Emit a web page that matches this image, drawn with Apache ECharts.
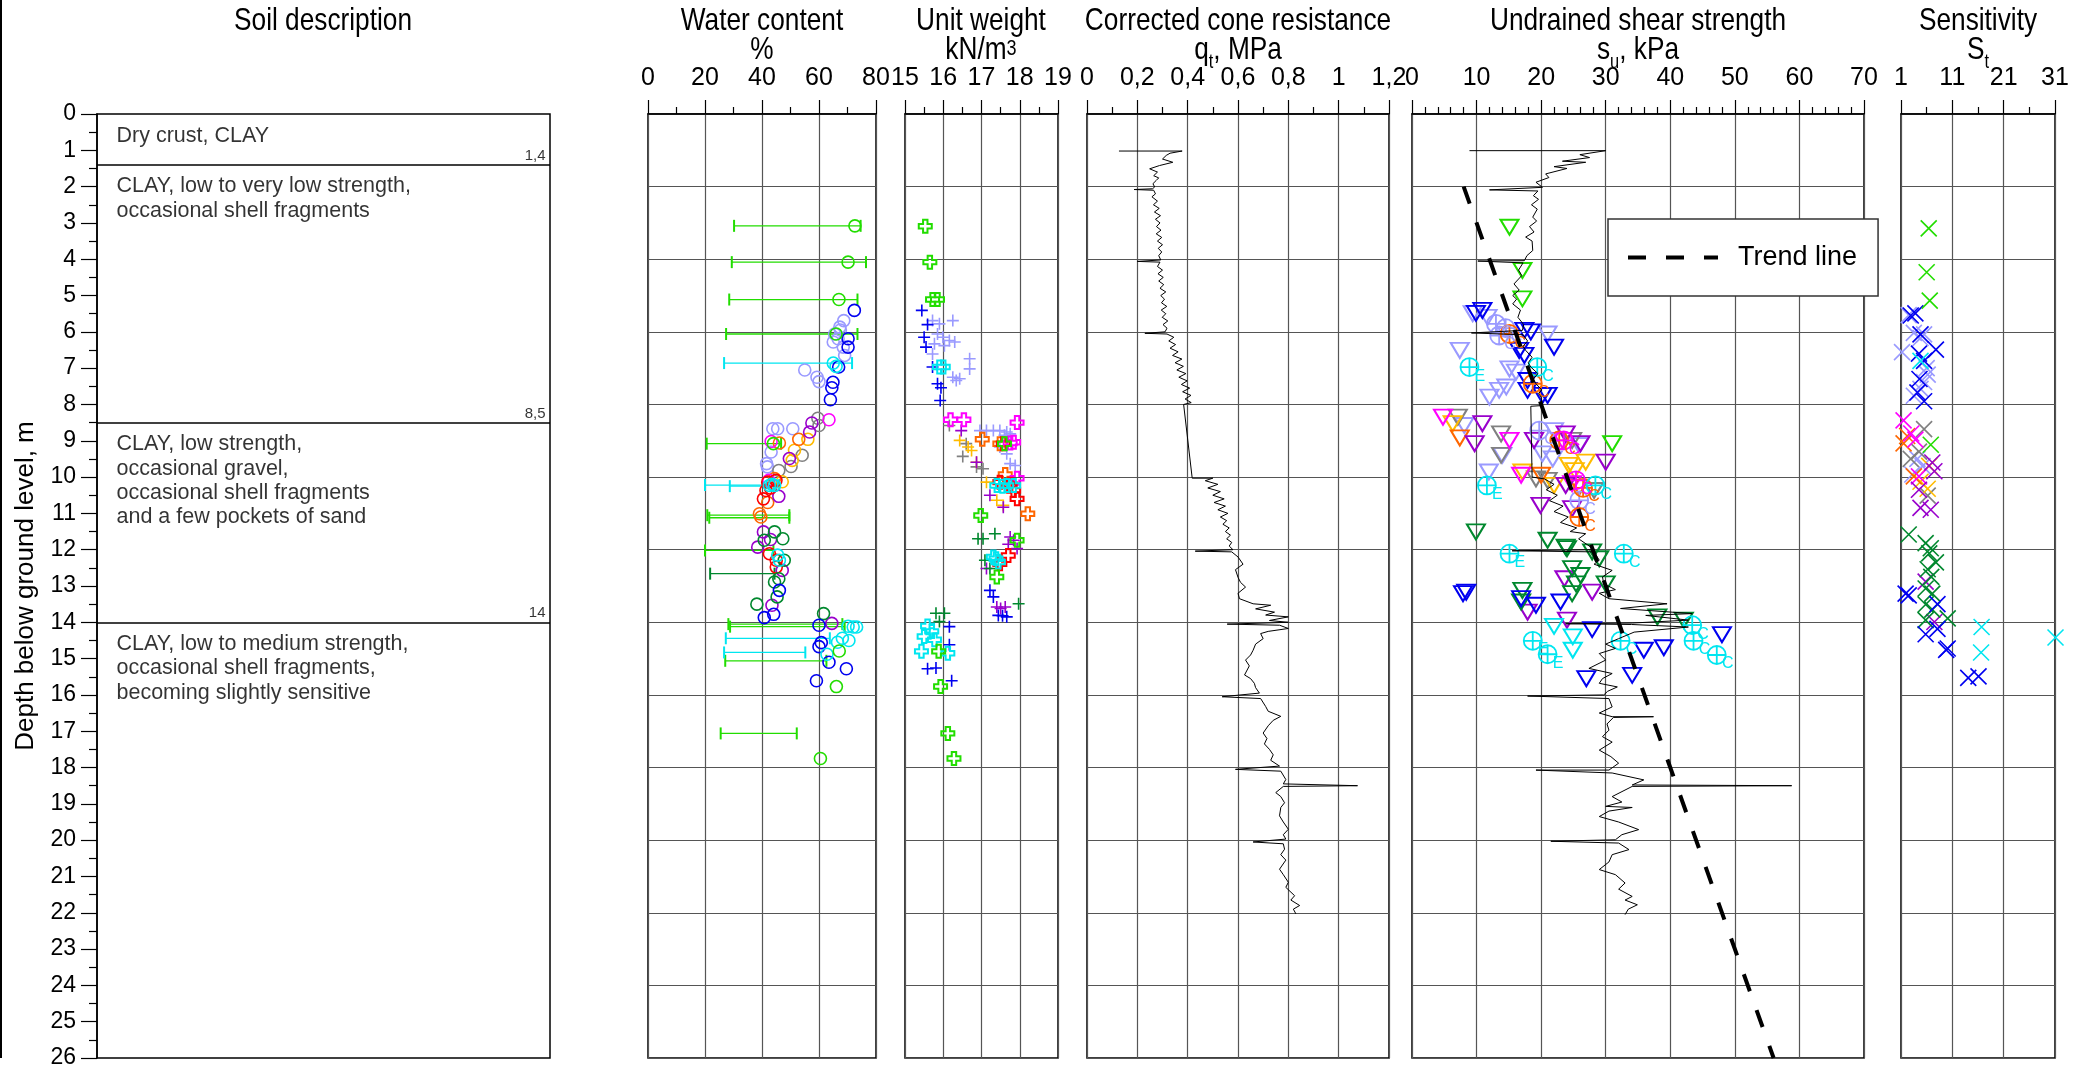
<!DOCTYPE html>
<html>
<head>
<meta charset="utf-8">
<title>Soil profile</title>
<script src="https://cdn.jsdelivr.net/npm/echarts@6/dist/echarts.min.js"></script>
<style>
  html, body { margin: 0; padding: 0; background: #fff; }
  #chart { width: 2087px; height: 1071px; }
</style>
</head>
<body>
<div id="chart"></div>
<script>
// depth scale
const depthMax = 26;

// soil layers
const layerTops = [0, 1.4, 8.5, 14];
const layerBounds = [1.4, 8.5, 14];
const layerText = [
  'Dry crust, CLAY',
  'CLAY, low to very low strength,\noccasional shell fragments',
  'CLAY, low strength,\noccasional gravel,\noccasional shell fragments\nand a few pockets of sand',
  'CLAY, low to medium strength,\noccasional shell fragments,\nbecoming slightly sensitive'
];

// tick labels of the top axes
const waterTicks = [0, 20, 40, 60, 80];
const unitTicks = [15, 16, 17, 18, 19];
const coneTicks = [0, 0.2, 0.4, 0.6, 0.8, 1, 1.2];
const suTicks = [0, 10, 20, 30, 40, 50, 60, 70];
const sensTicks = [1, 11, 21, 31];

// water content, [w %, depth m]
const waterLime = [[72.6, 3.08], [70.2, 4.08], [67, 5.11], [66, 6.06], [44, 9.08], [67.1, 14.79], [66.1, 15.77], [60.5, 17.75]];
const waterBlue = [[72.4, 5.41], [70.2, 6.19], [70.2, 6.42], [66.9, 6.97], [64.9, 7.39], [64.5, 7.54], [64, 7.87], [46.1, 13.12],
  [44.1, 13.78], [40.8, 13.87], [60, 14.08], [60.8, 14.56], [60, 14.67], [63.5, 15.1], [69.6, 15.28], [59.1, 15.61]];
const waterLav = [[68.7, 5.69], [67.3, 5.87], [65.5, 6.06], [65, 6.28], [66.7, 6.19], [68.5, 6.42], [69, 6.65], [67.5, 5.95],
  [55, 7.05], [59.3, 7.25], [60, 7.37], [43.8, 8.67], [45.5, 8.67], [50.8, 8.67], [43.2, 9.31], [41.6, 9.63], [41.9, 9.72]];
const waterMag = [[63.5, 8.42], [43.2, 9.02], [42.4, 10.09]];
const waterPurple = [[57.5, 8.51], [56.7, 8.76], [49.6, 9.49], [45.9, 10.53], [40.5, 11.51], [43, 11.72], [38.5, 11.93],
  [47.1, 12.57], [43.5, 13.53], [64.5, 14.03]];
const waterGray = [[59.6, 8.38], [60, 8.58], [54.1, 9.4], [50.2, 9.71], [45.9, 9.82]];
const waterOrange = [[52.9, 8.96], [46.1, 9.06], [44.4, 10.04], [42, 10.7], [39.1, 11.01], [39.6, 11.1]];
const waterGold = [[56.1, 8.96], [51.4, 9.26], [50.6, 9.54], [47.1, 10.13]];
const waterRed = [[42, 10.14], [44.9, 10.09], [43, 10.3], [41.4, 10.37], [40.5, 10.6], [42.6, 12.11], [45, 12.29], [45, 12.48]];
const waterCyan = [[65, 6.86], [66, 6.95], [42.6, 10.23], [44.4, 10.23], [43.5, 10.2], [45.5, 12.15], [46.1, 12.29],
  [70.2, 14.11], [72, 14.13], [73.2, 14.13], [68.2, 14.44], [70.5, 14.5], [66.5, 14.55], [62.8, 14.88]];
const waterDkGreen = [[44.4, 11.51], [47.3, 11.7], [40.8, 11.74], [47.8, 12.29], [45.9, 12.8], [44.4, 12.89], [45.3, 13.3],
  [38.2, 13.5], [61.6, 13.76]];
// water content ranges, [min, max, depth]
const rangeLime = [[30.2, 74.6, 3.08], [29.4, 76.5, 4.08], [28.5, 73.5, 5.11], [27.4, 73.5, 6.06], [20.6, 46.7, 9.08],
  [20.8, 49.6, 11.05], [21.5, 49.6, 11.12], [20, 44, 12.02], [28.2, 68.2, 14.05], [28.8, 69, 14.12], [27.1, 62.6, 15.06],
  [25.5, 52.2, 17.06]];
const rangeCyan = [[26.7, 71.6, 6.86], [20, 46, 10.22], [28.7, 44, 10.25], [27.3, 63.8, 14.44], [26.7, 55.2, 14.83]];
const rangeDkGreen = [[21.8, 44.4, 12.66]];

// unit weight, [kN/m3, depth m]
const unitLimeBox = [[15.53, 3.09], [15.65, 4.08], [15.72, 5.11], [15.85, 5.11], [17.6, 9.08], [16.98, 11.06], [17.93, 11.74],
  [17.4, 12.75], [15.88, 14.8], [15.93, 15.77], [16.12, 17.06], [16.28, 17.75]];
const unitMagBox = [[16.19, 8.42], [16.54, 8.42], [17.93, 8.5], [17.84, 9.04], [17.75, 9.06], [17.93, 10.03]];
const unitOrangeBox = [[17.02, 8.96], [17.48, 9.08], [17.62, 9.93], [18.21, 11.01]];
const unitRedBox = [[17.57, 9.08], [17.48, 10.14], [17.75, 10.2], [17.84, 10.37], [17.93, 10.6], [17.7, 12.16], [17.48, 12.39]];
const unitCyanBox = [[15.9, 6.97], [16, 6.97], [17.4, 10.23], [17.55, 10.25], [17.66, 10.23], [17.84, 10.23], [17.31, 12.2],
  [17.38, 12.25], [17.44, 12.34], [15.59, 14.1], [15.7, 14.25], [15.5, 14.39], [15.77, 14.48], [15.43, 14.8], [16.12, 14.85]];
const unitBlue = [[15.44, 5.41], [15.59, 5.8], [15.5, 6.15], [15.55, 6.42], [15.72, 6.97], [15.85, 7.43], [15.94, 7.54],
  [15.92, 7.89], [17.22, 13.12], [17.31, 13.3], [17.44, 13.81], [17.55, 13.82], [17.66, 13.85], [16.16, 14.12], [16.16, 14.62],
  [15.59, 15.28], [15.81, 15.26], [16.22, 15.61]];
const unitLav = [[15.72, 5.69], [15.9, 5.78], [16.25, 5.69], [15.85, 6.06], [15.99, 6.15], [16.16, 6.24], [15.77, 6.33],
  [16.03, 6.38], [16.3, 6.28], [15.72, 6.61], [16.69, 6.74], [16.69, 7.02], [16.25, 7.25], [16.43, 7.29], [16.34, 7.34],
  [16.96, 8.72], [17.13, 8.72], [17.31, 8.72], [17.48, 8.72], [17.66, 8.76], [17.75, 8.81], [17.6, 8.85], [17.48, 9.17],
  [17.66, 9.36], [17.75, 9.63], [17.88, 9.68]];
const unitGray = [[16.16, 8.58], [16.6, 9.08], [16.51, 9.43], [16.87, 9.72], [17.04, 9.77]];
const unitPurple = [[16.47, 8.72], [16.87, 9.59], [17.22, 10.5], [17.57, 10.83], [17.75, 11.65], [17.84, 11.74], [17.7, 11.85],
  [17.93, 11.97], [17.13, 12.52], [17.4, 13.58], [17.5, 13.62], [17.62, 13.58]];
const unitGold = [[16.43, 8.99], [16.65, 9.17], [16.74, 9.27], [16.87, 9.59], [17.13, 10.14], [17.4, 10.64], [17.57, 10.78]];
const unitDkGreen = [[16.91, 11.7], [17.04, 11.7], [17.35, 11.56], [17.09, 12.29], [17.22, 12.52], [17.97, 13.49],
  [15.81, 13.75], [16.03, 13.75], [15.9, 13.98]];

// CPT corrected cone resistance, [qt MPa, depth m]
const coneTrace = [[0.127, 1.02], [0.378, 1.02], [0.33, 1.08], [0.315, 1.14], [0.3, 1.24], [0.341, 1.33], [0.288, 1.42],
  [0.249, 1.51], [0.28, 1.6], [0.265, 1.7], [0.285, 1.76], [0.275, 1.83], [0.262, 1.92], [0.269, 2.01], [0.26, 2.06],
  [0.187, 2.08], [0.265, 2.1], [0.272, 2.2], [0.258, 2.28], [0.28, 2.4], [0.264, 2.5], [0.287, 2.6], [0.268, 2.7], [0.292, 2.8],
  [0.272, 2.9], [0.29, 3.0], [0.276, 3.1], [0.294, 3.2], [0.275, 3.3], [0.297, 3.4], [0.28, 3.5], [0.3, 3.6], [0.283, 3.7],
  [0.297, 3.8], [0.285, 3.9], [0.293, 4.02], [0.2, 4.06], [0.29, 4.08], [0.28, 4.2], [0.3, 4.3], [0.282, 4.4], [0.303, 4.5],
  [0.285, 4.6], [0.305, 4.7], [0.29, 4.8], [0.313, 4.9], [0.293, 5.0], [0.308, 5.1], [0.296, 5.2], [0.317, 5.3], [0.295, 5.4],
  [0.313, 5.5], [0.299, 5.6], [0.321, 5.7], [0.302, 5.8], [0.318, 5.9], [0.31, 6.0], [0.23, 6.04], [0.318, 6.06], [0.345, 6.15],
  [0.325, 6.25], [0.352, 6.35], [0.33, 6.45], [0.362, 6.55], [0.34, 6.65], [0.377, 6.75], [0.35, 6.85], [0.383, 6.95],
  [0.357, 7.05], [0.393, 7.15], [0.365, 7.25], [0.398, 7.35], [0.375, 7.45], [0.408, 7.55], [0.38, 7.65], [0.413, 7.75],
  [0.39, 7.85], [0.414, 7.95], [0.384, 8.0], [0.418, 10.03], [0.5, 10.03], [0.47, 10.1], [0.52, 10.2], [0.48, 10.3],
  [0.53, 10.4], [0.5, 10.5], [0.545, 10.6], [0.505, 10.7], [0.55, 10.8], [0.52, 10.9], [0.56, 11.0], [0.53, 11.1],
  [0.555, 11.2], [0.54, 11.3], [0.565, 11.4], [0.55, 11.5], [0.57, 11.6], [0.555, 11.7], [0.575, 11.8], [0.565, 11.9],
  [0.58, 12.0], [0.43, 12.04], [0.575, 12.06], [0.6, 12.2], [0.62, 12.4], [0.59, 12.55], [0.6, 12.76], [0.61, 12.9],
  [0.63, 13.03], [0.6, 13.2], [0.606, 13.35], [0.66, 13.49], [0.73, 13.53], [0.67, 13.63], [0.745, 13.72], [0.71, 13.8],
  [0.8, 13.85], [0.725, 13.95], [0.8, 14.0], [0.557, 14.05], [0.765, 14.08], [0.8, 14.17], [0.72, 14.25], [0.69, 14.31],
  [0.7, 14.45], [0.67, 14.6], [0.66, 14.77], [0.65, 14.9], [0.63, 15.04], [0.645, 15.2], [0.626, 15.45], [0.65, 15.55],
  [0.665, 15.68], [0.67, 15.8], [0.685, 15.95], [0.537, 16.05], [0.69, 16.1], [0.71, 16.32], [0.72, 16.45], [0.77, 16.59],
  [0.74, 16.7], [0.72, 16.85], [0.7, 17.05], [0.715, 17.2], [0.705, 17.35], [0.725, 17.5], [0.74, 17.65], [0.73, 17.8],
  [0.765, 17.96], [0.59, 18.05], [0.77, 18.1], [0.79, 18.33], [0.78, 18.45], [1.075, 18.5], [0.78, 18.52], [0.75, 18.69],
  [0.77, 18.8], [0.785, 18.97], [0.77, 19.1], [0.765, 19.33], [0.78, 19.5], [0.8, 19.7], [0.78, 19.85], [0.79, 19.97],
  [0.66, 20.05], [0.78, 20.1], [0.785, 20.25], [0.77, 20.4], [0.79, 20.55], [0.765, 20.8], [0.78, 20.95], [0.8, 21.16],
  [0.79, 21.3], [0.825, 21.53], [0.81, 21.65], [0.845, 21.8], [0.82, 21.9], [0.83, 22.03]];

// CPT derived undrained shear strength, [su kPa, depth m]
const suTrace = [[8.9, 1.01], [30, 1.01], [26, 1.12], [27.5, 1.2], [23.3, 1.3], [26.9, 1.33], [22, 1.45], [24, 1.5],
  [20.7, 1.65], [21.2, 1.75], [19.2, 1.88], [20.2, 2.02], [12, 2.09], [19.5, 2.12], [18.8, 2.25], [19.6, 2.35], [18.5, 2.5],
  [19.4, 2.62], [18.7, 2.84], [19.3, 2.95], [18.2, 3.1], [18.9, 3.25], [17.6, 3.39], [18.6, 3.5], [18.7, 3.76], [17.8, 3.9],
  [17.4, 4.04], [10.2, 4.05], [17.2, 4.1], [16.5, 4.3], [17, 4.45], [15.8, 4.68], [16.6, 4.85], [15.6, 5.0], [16.2, 5.1],
  [15.6, 5.23], [16.8, 5.4], [16.4, 5.6], [17.3, 5.8], [17.1, 5.96], [9.2, 6.03], [17.2, 6.08], [17.9, 6.25], [17.2, 6.4],
  [17.6, 6.51], [18.6, 6.7], [18, 6.85], [18.4, 6.97], [19.5, 7.15], [18.8, 7.3], [19.2, 7.43], [20.1, 7.6], [19.6, 7.7],
  [20, 7.8], [20.2, 8.03], [18.4, 8.05], [18.6, 10.0], [20.5, 10.05], [22, 10.2], [20.8, 10.35], [22.5, 10.5], [21.3, 10.65],
  [23.4, 10.8], [22, 10.95], [24.2, 11.1], [23, 11.25], [25.5, 11.4], [24.5, 11.5], [26.9, 11.56], [25.8, 11.7], [27.7, 11.93],
  [28, 12.0], [15.5, 12.03], [28.2, 12.06], [29, 12.29], [28.2, 12.4], [31, 12.57], [29.5, 12.75], [29.7, 12.94], [31.5, 13.1],
  [29, 13.2], [30.5, 13.35], [39.5, 13.49], [32.3, 13.62], [43.4, 13.76], [36.2, 13.81], [42.8, 13.94], [34.1, 14.02],
  [23.8, 14.04], [34, 14.06], [42.8, 14.13], [34.4, 14.27], [32, 14.45], [30, 14.6], [31.5, 14.72], [29, 14.86], [30, 15.04],
  [27.4, 15.27], [31, 15.41], [29.5, 15.55], [29, 15.68], [31.8, 15.78], [30.3, 15.9], [29.7, 16.0], [17.9, 16.03],
  [30.5, 16.1], [31, 16.33], [29, 16.5], [31, 16.6], [37.4, 16.6], [31.2, 16.62], [30.2, 16.8], [30.5, 16.97], [29.5, 17.15],
  [31, 17.3], [29, 17.52], [30.8, 17.7], [32, 17.88], [30.5, 18.07], [19.2, 18.07], [31, 18.15], [35.9, 18.34], [34.1, 18.48],
  [58.8, 18.5], [34.1, 18.52], [31, 18.8], [32.5, 18.95], [30, 19.07], [34.1, 19.1], [30.5, 19.2], [29, 19.35], [32, 19.5],
  [35.1, 19.71], [32.5, 19.85], [31.5, 19.99], [21.5, 20.03], [32, 20.08], [33.6, 20.26], [31, 20.4], [30.5, 20.6], [29, 20.81],
  [31.5, 20.95], [33, 21.18], [32, 21.35], [34.1, 21.55], [33, 21.65], [34.9, 21.78], [33.5, 21.9], [33, 22.05]];
const trendSu = [[8, 2], [56, 26]];

// undrained shear strength from lab / field tests, [su kPa, depth m]
const suLime = [[15.1, 3.12], [17.1, 4.31], [17.1, 5.09], [31, 9.08]];
const suBlue = [[9.9, 5.49], [10.9, 5.41], [17.4, 5.96], [18.4, 6.0], [22, 6.42], [16.6, 6.51], [17.4, 6.65], [17.9, 7.34],
  [17.9, 7.61], [20.2, 7.75], [21, 7.75], [7.9, 13.21], [8.4, 13.17], [16.9, 13.35], [19.2, 13.53], [23, 13.44], [27.9, 14.2],
  [48, 14.34], [39, 14.7], [35.9, 14.77], [34.1, 15.46], [27, 15.55]];
const suLav = [[9.4, 5.5], [11.7, 5.6], [21, 6.06], [7.4, 6.51], [15.1, 7.02], [16.1, 7.11], [14.6, 7.52], [13.5, 7.61],
  [12, 7.8], [8.1, 8.58], [22, 8.72], [25.9, 9.13], [20.2, 9.36], [14, 9.4], [21.8, 9.5], [11.9, 9.86]];
const suMag = [[4.8, 8.35], [15.1, 8.99], [23.3, 8.99], [16.9, 9.95], [24.8, 10.18]];
const suGray = [[7.1, 8.35], [13.8, 8.81], [24.8, 8.99], [13.8, 9.4], [19.2, 10.05], [21, 10.09], [28.2, 10.37]];
const suOrange = [[7.4, 8.92], [20, 9.95], [25.9, 10.28]];
const suGold = [[6.3, 8.53], [26.9, 9.59], [24.3, 9.68], [25.2, 9.82], [17.1, 9.86], [22, 10.23]];
const suPurple = [[10.9, 8.53], [9.7, 9.08], [18.9, 8.99], [23.8, 8.81], [26.1, 9.08], [30, 9.59], [23.8, 10.23],
  [19.9, 10.78], [24.8, 10.87], [23.6, 12.8], [27.9, 13.17], [17.9, 13.72], [24, 13.94]];
const suDkGreen = [[9.9, 11.51], [21, 11.74], [23.8, 11.93], [24, 11.97], [27.9, 12.06], [29, 12.25], [24.8, 12.52],
  [26.1, 12.71], [25.4, 12.94], [30, 12.94], [24.8, 13.21], [17.1, 13.12], [16.9, 13.44], [38, 13.85], [42.1, 13.94]];
const suCyan = [[22, 14.11], [24.9, 14.4], [24.9, 14.77]];
// cone tests marked E / C, [su kPa, depth m, tag]
const suCyanTest = [[8.9, 6.97, 'E'], [19.4, 6.97, 'C'], [11.6, 10.23, 'E'], [28.4, 10.23, 'C'], [15.1, 12.11, 'E'],
  [32.8, 12.11, 'C'], [43.4, 14.08, 'C'], [18.7, 14.51, 'E'], [32.3, 14.51, 'C'], [43.6, 14.51, 'C'], [21, 14.88, 'E'],
  [47.2, 14.9, 'C']];
const suLavTest = [[13, 5.78, 'C'], [14.5, 5.9, 'C'], [13.5, 6.1, 'C'], [19.7, 8.72, 'C'], [25.9, 10.64, 'C']];
const suOrangeTest = [[15.1, 6.06, 'C'], [18.7, 7.43, 'C'], [22.8, 8.99, 'C'], [26.5, 10.3, 'C'], [25.9, 11.1, 'C']];
const suMagTest = [[23.5, 8.99, 'C'], [25.4, 10.09, 'C']];

// sensitivity, [St, depth m]
const sensLime = [[6.4, 3.15], [6, 4.36], [6.6, 5.14], [6.8, 9.11]];
const sensBlue = [[3.8, 5.49], [2.9, 5.55], [4.8, 6.07], [7.8, 6.49], [4.5, 6.6], [5.5, 6.8], [4.6, 7.3], [4.2, 7.67],
  [5.5, 7.91], [2.5, 13.26], [1.9, 13.21], [8.1, 13.5], [8.1, 14.18], [5.8, 14.33], [9.8, 14.76], [10.1, 14.72],
  [14.1, 15.53], [16.1, 15.49]];
const sensLav = [[2.5, 5.54], [3.5, 6.03], [5.5, 6.07], [4.8, 6.17], [1.2, 6.56], [6, 7.0], [6.2, 7.18], [5.5, 7.38],
  [4.8, 7.57], [4.3, 7.67], [3.5, 7.76], [4.2, 9.5], [5.2, 9.7], [3.2, 9.93]];
const sensMag = [[1.5, 8.44], [3, 8.8], [3.8, 8.97], [4.5, 9.98]];
const sensOrange = [[2.2, 8.87], [1.5, 9.07], [3.5, 9.98]];
const sensGray = [[5.5, 8.68], [4.5, 9.3], [2.9, 9.5], [6.2, 10.51]];
const sensGold = [[6.5, 9.69], [4.8, 10.13], [6.2, 10.32]];
const sensPurple = [[7.1, 9.6], [7.5, 9.84], [4.5, 10.35], [4.8, 10.85], [6.8, 10.9], [5.8, 12.88], [7.5, 13.99]];
const sensDkGreen = [[2.5, 11.58], [5.8, 11.82], [6.8, 11.96], [6.5, 12.1], [7.8, 12.35], [6.2, 12.54], [6.9, 12.75],
  [5.8, 13.07], [7.1, 13.21], [5.8, 13.51], [7.1, 13.65], [10.1, 13.89], [5.8, 13.94]];
const sensCyan = [[4.8, 6.8], [16.7, 14.13], [16.6, 14.83], [31.1, 14.42]];

// ---------------------------------------------------------------------------

const REG = "'Liberation Sans',Arial,sans-serif";

const COL = {
  lime: '#22dd00', blue: '#0000f0', lav: '#9a9aff', mag: '#ff00ff', gray: '#808080', orange: '#ff6600',
  gold: '#ffbb00', purple: '#9900cc', dkgreen: '#00882e', cyan: '#00e6f0', red: '#ff0000'
};

const SYM_PLUS = 'path://M0,5L10,5M5,0L5,10';
const SYM_PLUSBOX = 'path://M3.3,0L6.7,0L6.7,3.3L10,3.3L10,6.7L6.7,6.7L6.7,10L3.3,10L3.3,6.7L0,6.7L0,3.3L3.3,3.3Z';
const SYM_TRI = 'path://M0,0L10,0L5,8.7Z';
const SYM_X = 'path://M0,0L10,10M0,10L10,0';
const SYM_OPLUS = 'path://M0,10A10,10,0,1,1,20,10A10,10,0,1,1,0,10ZM10,0L10,20M0,10L20,10';
const ICON_DASH = 'path://M0,0H18V4H0ZM38,0H56V4H38ZM76,0H90V4H76Z';

// grid 0 = soil description, 1..5 = data panels
const panelBoxes = [
  { left: 97, width: 453 },
  { left: 648, width: 228 },
  { left: 905, width: 153 },
  { left: 1087, width: 302 },
  { left: 1412, width: 452 },
  { left: 1901, width: 154 }
];

const grids = panelBoxes.map(b => ({
  left: b.left, width: b.width, top: 114, height: 944,
  show: true, borderColor: '#000', borderWidth: 1.5, backgroundColor: '#fff',
  containLabel: false, outerBoundsMode: 'none'
}));

function comma(v) {
  return String(Math.round(v * 10) / 10).replace('.', ',');
}

function topAxis(gridIndex, ticks, minorSplit, fmt) {
  return {
    gridIndex: gridIndex, type: 'value', position: 'top',
    min: ticks[0], max: ticks[ticks.length - 1], interval: ticks[1] - ticks[0],
    axisLine: { show: true, onZero: false, lineStyle: { color: '#000', width: 1.5 } },
    axisTick: { show: true, inside: false, length: 14, lineStyle: { color: '#000', width: 1.2 } },
    minorTick: { show: true, splitNumber: minorSplit, length: 7, lineStyle: { color: '#000', width: 1.2 } },
    splitLine: { show: true, lineStyle: { color: '#555', width: 1.2 } },
    axisLabel: {
      color: '#000', fontFamily: REG, fontSize: 25, margin: 23, formatter: fmt,
      showMinLabel: true, showMaxLabel: true, hideOverlap: false
    }
  };
}

function depthAxis(gridIndex) {
  return {
    gridIndex: gridIndex, type: 'value', inverse: true, min: 0, max: depthMax, interval: 2,
    axisLine: { show: false }, axisTick: { show: false }, axisLabel: { show: false },
    splitLine: { show: true, lineStyle: { color: '#555', width: 1.2 } }
  };
}

const xAxes = [
  { gridIndex: 0, type: 'value', min: 0, max: 1, show: false },
  topAxis(1, waterTicks, 2),
  topAxis(2, unitTicks, 2),
  topAxis(3, coneTicks, 2, comma),
  topAxis(4, suTicks, 5),
  topAxis(5, sensTicks, 2)
];

const yAxes = [
  {
    gridIndex: 0, type: 'value', inverse: true, min: 0, max: depthMax, interval: 1,
    name: 'Depth below ground level, m', nameLocation: 'middle', nameGap: 58,
    nameTextStyle: { fontFamily: REG, fontSize: 26, color: '#000' },
    axisLine: { show: true, lineStyle: { color: '#000', width: 1.5 } },
    axisTick: { show: true, inside: false, length: 16, lineStyle: { color: '#000', width: 1.2 } },
    minorTick: { show: true, splitNumber: 2, length: 8, lineStyle: { color: '#000', width: 1.2 } },
    splitLine: { show: false },
    axisLabel: { color: '#000', fontFamily: REG, fontSize: 23, margin: 21 }
  },
  depthAxis(1), depthAxis(2), depthAxis(3), depthAxis(4), depthAxis(5)
];

function marks(grid, data, symbol, size, color, width) {
  return {
    type: 'scatter', xAxisIndex: grid, yAxisIndex: grid, data: data,
    symbol: symbol, symbolSize: size, clip: false, silent: true, z: 3,
    itemStyle: { color: 'rgba(0,0,0,0)', borderColor: color, borderWidth: width || 1.6, opacity: 1 }
  };
}

function tagged(grid, data, color) {
  const s = marks(grid, data, SYM_OPLUS, 18, color, 1.8);
  s.label = {
    show: true, position: [15, 11], formatter: p => p.data[2],
    color: color, fontFamily: REG, fontSize: 16
  };
  return s;
}

function ranges(grid, data, color) {
  return {
    type: 'custom', xAxisIndex: grid, yAxisIndex: grid, data: data, silent: true, z: 2,
    encode: { x: [0, 1], y: 2 },
    renderItem: function (params, api) {
      const d = api.value(2);
      const a = api.coord([api.value(0), d]);
      const b = api.coord([api.value(1), d]);
      const h = 6;
      const style = { stroke: color, lineWidth: 1.3 };
      return {
        type: 'group', children: [
          { type: 'line', shape: { x1: a[0], y1: a[1], x2: b[0], y2: b[1] }, style: style },
          { type: 'line', shape: { x1: a[0], y1: a[1] - h, x2: a[0], y2: a[1] + h }, style: { stroke: color, lineWidth: 2 } },
          { type: 'line', shape: { x1: b[0], y1: b[1] - h, x2: b[0], y2: b[1] + h }, style: { stroke: color, lineWidth: 2 } }
        ]
      };
    }
  };
}

const series = [
  // soil description
  {
    type: 'scatter', xAxisIndex: 0, yAxisIndex: 0, symbolSize: 1, clip: false, silent: true,
    itemStyle: { color: 'rgba(0,0,0,0)' },
    data: layerTops.map((d, i) => [0, d, layerText[i]]),
    label: {
      show: true, position: [20, 10], align: 'left', verticalAlign: 'top', formatter: p => p.data[2],
      fontFamily: REG, fontSize: 21.5, lineHeight: 24.4, color: '#000'
    },
    markLine: {
      silent: true, symbol: 'none', animation: false, label: { show: false },
      lineStyle: { color: '#000', width: 1.5, type: 'solid' },
      data: layerBounds.map(d => ({ yAxis: d }))
    }
  },
  {
    type: 'scatter', xAxisIndex: 0, yAxisIndex: 0, symbolSize: 1, clip: false, silent: true,
    itemStyle: { color: 'rgba(0,0,0,0)' },
    data: layerBounds.map(d => [1, d]),
    label: {
      show: true, position: [-4, -1], align: 'right', verticalAlign: 'bottom',
      formatter: p => comma(p.data[1]), fontFamily: REG, fontSize: 15, color: '#000'
    }
  },

  // water content
  ranges(1, rangeLime, COL.lime),
  ranges(1, rangeCyan, COL.cyan),
  ranges(1, rangeDkGreen, COL.dkgreen),
  marks(1, waterLav, 'circle', 12, COL.lav),
  marks(1, waterGray, 'circle', 12, COL.gray),
  marks(1, waterGold, 'circle', 12, COL.gold),
  marks(1, waterOrange, 'circle', 12, COL.orange),
  marks(1, waterPurple, 'circle', 12, COL.purple),
  marks(1, waterMag, 'circle', 12, COL.mag),
  marks(1, waterRed, 'circle', 12, COL.red),
  marks(1, waterDkGreen, 'circle', 12, COL.dkgreen),
  marks(1, waterBlue, 'circle', 12, COL.blue),
  marks(1, waterCyan, 'circle', 12, COL.cyan),
  marks(1, waterLime, 'circle', 12, COL.lime),

  // unit weight
  marks(2, unitLav, SYM_PLUS, 12, COL.lav),
  marks(2, unitGray, SYM_PLUS, 12, COL.gray),
  marks(2, unitGold, SYM_PLUS, 12, COL.gold),
  marks(2, unitPurple, SYM_PLUS, 12, COL.purple),
  marks(2, unitDkGreen, SYM_PLUS, 12, COL.dkgreen),
  marks(2, unitBlue, SYM_PLUS, 12, COL.blue),
  marks(2, unitOrangeBox, SYM_PLUSBOX, 13, COL.orange, 2),
  marks(2, unitMagBox, SYM_PLUSBOX, 13, COL.mag, 2),
  marks(2, unitRedBox, SYM_PLUSBOX, 13, COL.red, 2),
  marks(2, unitCyanBox, SYM_PLUSBOX, 13, COL.cyan, 2),
  marks(2, unitLimeBox, SYM_PLUSBOX, 13, COL.lime, 2),

  // cone resistance
  {
    type: 'line', xAxisIndex: 3, yAxisIndex: 3, data: coneTrace, symbol: 'none', silent: true, z: 4,
    lineStyle: { color: '#000', width: 1 }
  },

  // undrained shear strength
  {
    type: 'line', xAxisIndex: 4, yAxisIndex: 4, data: suTrace, symbol: 'none', silent: true, z: 4,
    lineStyle: { color: '#000', width: 1 }
  },
  marks(4, suLav, SYM_TRI, [18, 15], COL.lav, 2),
  marks(4, suGray, SYM_TRI, [18, 15], COL.gray, 2),
  marks(4, suGold, SYM_TRI, [18, 15], COL.gold, 2),
  marks(4, suOrange, SYM_TRI, [18, 15], COL.orange, 2),
  marks(4, suMag, SYM_TRI, [18, 15], COL.mag, 2),
  marks(4, suPurple, SYM_TRI, [18, 15], COL.purple, 2),
  marks(4, suDkGreen, SYM_TRI, [18, 15], COL.dkgreen, 2),
  marks(4, suBlue, SYM_TRI, [18, 15], COL.blue, 2),
  marks(4, suCyan, SYM_TRI, [18, 15], COL.cyan, 2),
  marks(4, suLime, SYM_TRI, [18, 15], COL.lime, 2),
  tagged(4, suLavTest, COL.lav),
  tagged(4, suOrangeTest, COL.orange),
  tagged(4, suMagTest, COL.mag),
  tagged(4, suCyanTest, COL.cyan),
  {
    type: 'line', name: 'Trend line', xAxisIndex: 4, yAxisIndex: 4, data: trendSu, symbol: 'none', silent: true, z: 5,
    color: '#000', lineStyle: { color: '#000', width: 4, type: [18, 20] }
  },

  // sensitivity
  marks(5, sensLav, SYM_X, 16, COL.lav),
  marks(5, sensGray, SYM_X, 16, COL.gray),
  marks(5, sensGold, SYM_X, 16, COL.gold),
  marks(5, sensOrange, SYM_X, 16, COL.orange),
  marks(5, sensMag, SYM_X, 16, COL.mag),
  marks(5, sensPurple, SYM_X, 16, COL.purple),
  marks(5, sensDkGreen, SYM_X, 16, COL.dkgreen),
  marks(5, sensBlue, SYM_X, 16, COL.blue),
  marks(5, sensCyan, SYM_X, 16, COL.cyan),
  marks(5, sensLime, SYM_X, 16, COL.lime)
];

// header texts drawn condensed, like a narrow sans face
function headText(x, y, text, rich) {
  return {
    type: 'text', x: x, y: y, scaleX: 0.82, silent: true,
    style: {
      text: text, fill: '#000', font: '32px ' + REG, align: 'center', verticalAlign: 'middle',
      rich: rich || undefined
    }
  };
}

const subRich = {
  a: { fontSize: 32, fontFamily: REG, verticalAlign: 'bottom' },
  b: { fontSize: 20, fontFamily: REG, verticalAlign: 'bottom', padding: [0, 0, -6, 0] },
  c: { fontSize: 22, fontFamily: REG, verticalAlign: 'top', padding: [4, 0, 0, 0] }
};

const graphic = [
  { type: 'line', silent: true, shape: { x1: 1, y1: 0, x2: 1, y2: 1058 }, style: { stroke: '#000', lineWidth: 2 } },
  headText(323, 21, 'Soil description'),
  headText(762, 21, 'Water content'),
  headText(762, 50, '%'),
  headText(981, 21, 'Unit weight'),
  headText(981, 50, '{a|kN/m}{c|3}', subRich),
  headText(1238, 21, 'Corrected cone resistance'),
  headText(1238, 50, '{a|q}{b|t}{a|, MPa}', subRich),
  headText(1638, 21, 'Undrained shear strength'),
  headText(1638, 50, '{a|s}{b|u}{a|, kPa}', subRich),
  headText(1978, 21, 'Sensitivity'),
  headText(1978, 50, '{a|S}{b|t}', subRich)
];

const chart = echarts.init(document.getElementById('chart'), null, { renderer: 'canvas' });
chart.setOption({
  animation: false,
  backgroundColor: '#fff',
  grid: grids,
  xAxis: xAxes,
  yAxis: yAxes,
  legend: {
    data: [{ name: 'Trend line', icon: ICON_DASH, itemStyle: { color: '#000', borderWidth: 0 } }],
    left: 1608, top: 219, selectedMode: false,
    padding: [25, 21, 25, 20], itemWidth: 90, itemHeight: 4,
    backgroundColor: '#fff', borderColor: '#333', borderWidth: 1.5, borderRadius: 0,
    textStyle: { fontFamily: REG, fontSize: 27, color: '#000', padding: [0, 0, 0, 15] }
  },
  graphic: graphic,
  series: series
});
</script>
</body>
</html>
